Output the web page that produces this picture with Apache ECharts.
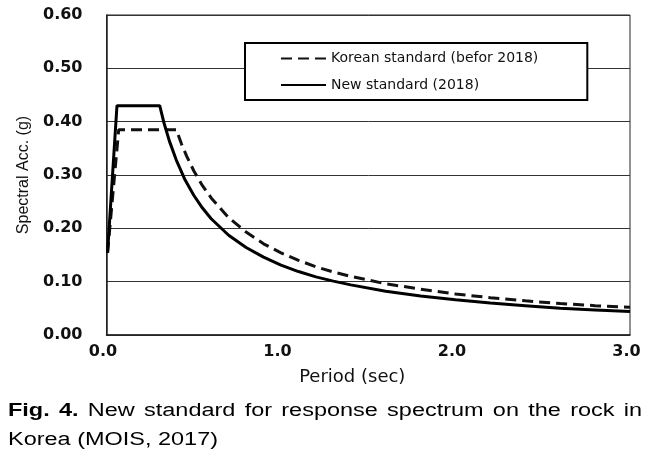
<!DOCTYPE html>
<html>
<head>
<meta charset="utf-8">
<script src="https://cdn.jsdelivr.net/npm/echarts@6/dist/echarts.min.js"></script>
<style>
  html, body { margin: 0; padding: 0; background: #fff; }
  #chart { width: 662px; height: 459px; }
</style>
</head>
<body>
<div id="chart"></div>
<script>
// ---- data ----
const seriesNames = ['Korean standard (befor 2018)', 'New standard (2018)'];

const periodsOld = [0.006, 0.07, 0.40, 0.43, 0.46, 0.50, 0.55, 0.60, 0.70, 0.80, 0.90, 1.00, 1.10, 1.20, 1.30, 1.40, 1.60, 1.80, 2.00, 2.20, 2.40, 2.60, 2.80, 3.00];
const valuesOld  = [0.154, 0.385, 0.385, 0.358, 0.335, 0.308, 0.280, 0.257, 0.220, 0.193, 0.171, 0.154, 0.140, 0.128, 0.118, 0.110, 0.096, 0.086, 0.077, 0.070, 0.064, 0.059, 0.055, 0.052];

const periodsNew = [0.006, 0.06, 0.305, 0.33, 0.36, 0.40, 0.45, 0.50, 0.55, 0.60, 0.70, 0.80, 0.90, 1.00, 1.10, 1.20, 1.30, 1.40, 1.60, 1.80, 2.00, 2.20, 2.40, 2.60, 2.80, 3.00];
const valuesNew  = [0.154, 0.430, 0.430, 0.397, 0.364, 0.328, 0.291, 0.262, 0.238, 0.218, 0.187, 0.164, 0.146, 0.131, 0.119, 0.109, 0.101, 0.094, 0.082, 0.073, 0.066, 0.060, 0.055, 0.050, 0.047, 0.044];

const xAxisTitle = 'Period (sec)';
const yAxisTitle = 'Spectral Acc. (g)';
const captionBold = 'Fig. 4.';
const captionLine1 = 'New standard for response spectrum on the rock in';
const captionLine2 = 'Korea (MOIS, 2017)';

function zip(xs, ys) { return xs.map((x, i) => [x, ys[i]]); }

// ---- caption layout (justified first line) ----
const capFontFamily = '"Liberation Sans", Arial, sans-serif';
const capSize = 18;
const cv = document.createElement('canvas').getContext('2d');
function measure(t, bold) {
  cv.font = (bold ? 'bold ' : '') + capSize + 'px ' + capFontFamily;
  return cv.measureText(t).width;
}
const capLeft = 8, capRight = 642;
const line2Width = 210;
const sx = line2Width / measure(captionLine2, false);
const words = captionBold.split(' ').map(t => ({ t, b: true }))
  .concat(captionLine1.split(' ').map(t => ({ t, b: false })));
const wordW = words.map(w => measure(w.t, w.b) * sx);
const totalW = wordW.reduce((a, b) => a + b, 0);
const gap = (capRight - capLeft - totalW) / (words.length - 1);
const captionEls = [];
let cx = capLeft;
words.forEach((w, i) => {
  captionEls.push({
    type: 'text', x: cx, y: 411.5, scaleX: sx,
    style: {
      text: w.t, fill: '#000',
      font: (w.b ? 'bold ' : '') + capSize + 'px ' + capFontFamily,
      align: 'left', verticalAlign: 'middle'
    }
  });
  cx += wordW[i] + gap;
});
captionEls.push({
  type: 'text', x: capLeft, y: 440, scaleX: sx,
  style: {
    text: captionLine2, fill: '#000',
    font: capSize + 'px ' + capFontFamily,
    align: 'left', verticalAlign: 'middle'
  }
});

// ---- chart ----
const chart = echarts.init(document.getElementById('chart'), null, { renderer: 'canvas' });
const tickFont = { fontFamily: '"DejaVu Sans", sans-serif', fontWeight: 'bold', fontSize: 16, color: '#111' };

chart.setOption({
  animation: false,
  backgroundColor: '#fff',
  grid: {
    left: 106.5, right: 32, top: 15, bottom: 124,
    show: true, borderColor: '#222', borderWidth: 1, backgroundColor: 'transparent'
  },
  legend: {
    orient: 'vertical',
    left: 245, top: 43,
    padding: [8.5, 49, 8, 35],
    itemWidth: 45, itemHeight: 14, itemGap: 12.5,
    backgroundColor: '#fff', borderColor: '#000', borderWidth: 2,
    itemStyle: { opacity: 0 },
    textStyle: { fontFamily: '"DejaVu Sans", sans-serif', fontSize: 14, color: '#111' },
    data: seriesNames
  },
  xAxis: {
    type: 'value', min: 0, max: 3, interval: 1,
    name: xAxisTitle, nameLocation: 'middle', nameGap: 33,
    nameTextStyle: { fontFamily: '"DejaVu Sans", sans-serif', fontSize: 18, color: '#111', padding: [0, 32, 0, 0] },
    axisLine: { show: true, lineStyle: { color: '#222', width: 1.5 } },
    axisTick: { show: false },
    splitLine: { show: false },
    axisLabel: Object.assign({ margin: 9, padding: [0, 7, 0, 0], formatter: v => v.toFixed(1) }, tickFont)
  },
  yAxis: {
    type: 'value', min: 0, max: 0.6, interval: 0.1,
    name: yAxisTitle, nameLocation: 'middle', nameGap: 75, nameRotate: 90,
    nameTextStyle: { fontFamily: '"Liberation Sans", Arial, sans-serif', fontSize: 16, color: '#111' },
    axisLine: { show: true, lineStyle: { color: '#222', width: 1.5 } },
    axisTick: { show: false },
    splitLine: { show: true, lineStyle: { color: '#333', width: 1 } },
    axisLabel: Object.assign({ margin: 24, formatter: v => v.toFixed(2) }, tickFont)
  },
  series: [
    {
      name: seriesNames[0], type: 'line', data: zip(periodsOld, valuesOld),
      symbol: 'none', showSymbol: false, smooth: false,
      lineStyle: { color: '#111', width: 3, type: [11, 6] },
      itemStyle: { color: '#111' }, z: 3
    },
    {
      name: seriesNames[1], type: 'line', data: zip(periodsNew, valuesNew),
      symbol: 'none', showSymbol: false, smooth: false,
      lineStyle: { color: '#000', width: 3, type: 'solid' },
      itemStyle: { color: '#000' }, z: 4
    }
  ],
  graphic: captionEls
});
</script>
</body>
</html>
